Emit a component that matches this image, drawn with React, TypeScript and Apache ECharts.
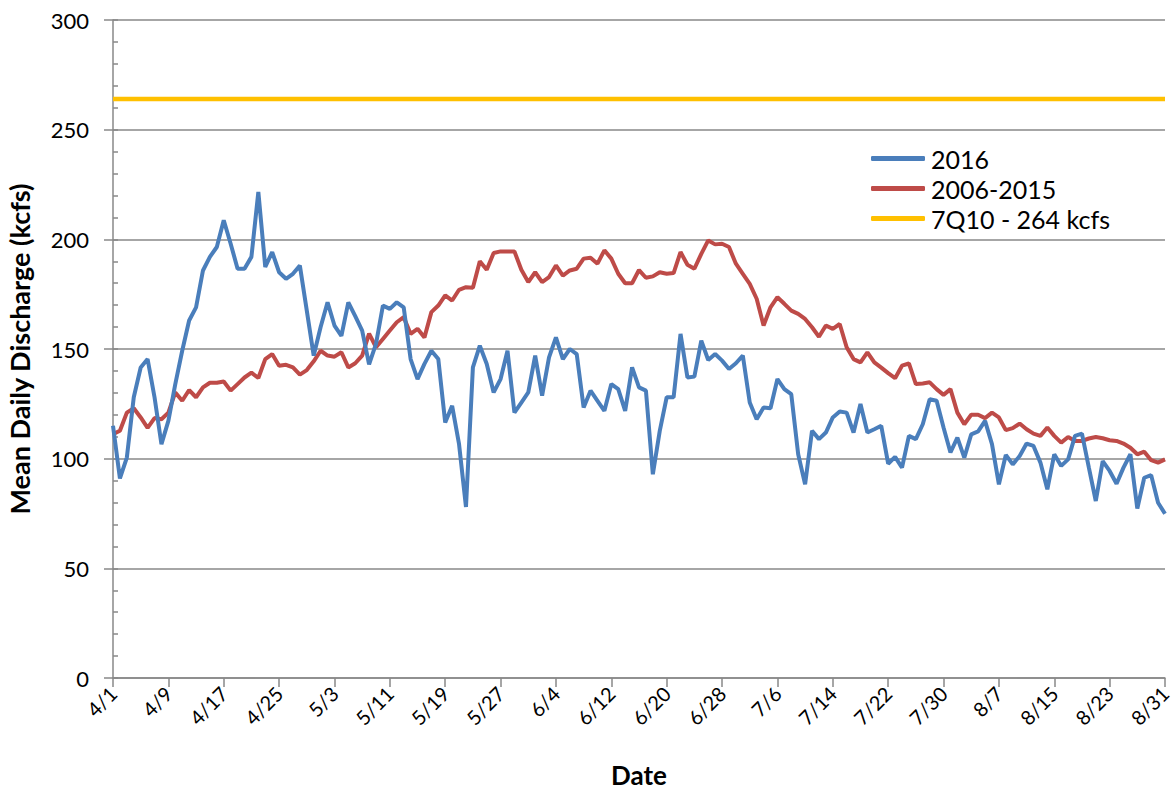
import React, { useEffect, useRef } from "react";
import * as echarts from "echarts";

const monthNums = [4, 5, 6, 7, 8];
const monthDays = [30, 31, 30, 31, 31];
const categories: string[] = [];
monthNums.forEach((m, i) => {
  for (let d = 1; d <= monthDays[i]; d++) categories.push(`${m}/${d}`);
});

const series2016 = [
  115, 91, 100.5, 128, 141.6, 145.4, 128, 106.6, 117.2, 134,
  149.2, 163, 169, 185.8, 192, 196.5, 208.7, 198, 186.6, 186.6,
  192, 221.6, 187.4, 194.2, 185, 182, 184.3, 188, 167.5, 147,
  160, 171.3, 160.7, 156, 171.3, 165, 158.4, 143, 152.3, 169.8,
  168.3, 171.3, 169, 145.4, 136.3, 143.2, 149.2, 145.4, 116.5, 124.1,
  106.6, 78, 141.6, 151.5, 143.2, 130.2, 136.3, 149.2, 121, 125.6,
  130.2, 147, 128.7, 146.2, 155.3, 145.4, 150, 147.7, 123.3, 131,
  126.4, 121.8, 134, 131.7, 121.8, 141.6, 132.5, 131, 92.9, 112.7,
  128, 128, 156.9, 137, 137.4, 153.8, 145, 147.7, 144.7, 140.9,
  143.5, 147, 125.6, 118, 123.3, 123, 136.3, 131.7, 129.4, 102,
  88.3, 112.7, 108.9, 111.9, 118.8, 121.5, 121, 111.9, 124.9, 111.9,
  113.4, 115, 97.7, 100.8, 95.9, 110.4, 108.9, 115.7, 127.1, 126.4,
  114.2, 102.8, 109.6, 100.5, 111.1, 112.4, 117.2, 106.6, 88.3, 101.7,
  97.4, 101.2, 106.9, 105.8, 98.2, 86, 102, 96.7, 99.7, 110.4,
  111.4, 95.9, 80.7, 98.9, 94.4, 88.6, 95.9, 102, 77.3, 91.3,
  92.5, 79.9, 74.9,
];

const series2006_2015 = [
  111.2, 112.7, 121, 123, 118.8, 114, 118.5, 118, 121, 130.2,
  126.4, 131.3, 128, 132.5, 134.6, 134.6, 135.2, 131, 134, 137,
  139.2, 136.8, 145.4, 147.7, 142.4, 142.8, 141.6, 138.3, 140.4, 144.4,
  149.2, 147, 146.5, 148.5, 141.6, 143.5, 147, 157, 150.8, 154.6,
  158.4, 162.2, 164.5, 156.9, 159.2, 155.3, 166.8, 169.8, 174.4, 172.1,
  177, 178.2, 177.9, 190, 186.1, 193.8, 194.5, 194.5, 194.5, 186.1,
  180.5, 185, 180.5, 182.8, 188.1, 183.5, 185.8, 186.6, 191.2, 191.6,
  188.9, 195, 191.2, 184.3, 180, 180, 186, 182.5, 183.1, 185,
  184.3, 184.6, 194.2, 188.4, 186.6, 193.4, 199.5, 197.7, 198, 196.5,
  188.9, 184.3, 179.7, 172.9, 160.7, 169, 173.6, 170.6, 167.5, 166,
  163.7, 159.9, 155.6, 160.7, 159.2, 161.4, 150.8, 145.4, 143.9, 148.5,
  143.9, 141.5, 139, 136.7, 142.4, 143.4, 134, 134.3, 134.8, 131.7,
  129.1, 131.7, 121, 115.7, 120, 120, 118.5, 121, 118.8, 113,
  113.9, 116, 113.4, 111.4, 110.4, 114.2, 110.4, 107.3, 109.9, 108.1,
  108.1, 109.2, 109.9, 109.3, 108.4, 108.1, 106.9, 105, 102, 103.2,
  99.3, 98.2, 99.7,
];

const threshold7Q10 = 264;
const seriesNames = ["2016", "2006-2015", "7Q10 - 264 kcfs"];
const yTicks = { min: 0, max: 300, interval: 50 };

const FONT = "Lato, 'Open Sans', sans-serif";
const GRID_GRAY = "#888888";

export default function App() {
  const ref = useRef<HTMLDivElement>(null);
  useEffect(() => {
    if (!ref.current) return;
    const chart = echarts.init(ref.current, undefined, { renderer: "svg" });
    chart.setOption({
      animation: false,
      backgroundColor: "#ffffff",
      textStyle: { fontFamily: FONT },
      grid: { left: 113, right: 7, top: 20, bottom: 114, outerBoundsMode: "none", containLabel: false },
      legend: {
        orient: "vertical",
        left: 866,
        top: 141,
        itemWidth: 54,
        itemHeight: 5,
        itemGap: 5,
        icon: "roundRect",
        textStyle: { fontFamily: FONT, fontSize: 25, color: "#000", padding: [0, 0, 0, 1] },
        data: seriesNames,
      },
      xAxis: {
        type: "category",
        data: categories,
        boundaryGap: false,
        name: "Date",
        nameLocation: "middle",
        nameGap: 84,
        nameTextStyle: { fontFamily: FONT, fontSize: 26, fontWeight: "bold", color: "#000" },
        axisLine: { lineStyle: { color: GRID_GRAY, width: 1.5 } },
        axisTick: { show: true, interval: 7, length: 9, lineStyle: { color: GRID_GRAY, width: 1.5 } },
        axisLabel: {
          interval: 7,
          rotate: 45,
          margin: 12,
          fontFamily: FONT,
          fontSize: 20,
          color: "#000",
        },
        splitLine: { show: false },
      },
      yAxis: [
        {
          type: "value",
          min: yTicks.min,
          max: yTicks.max,
          interval: yTicks.interval,
          name: "Mean Daily Discharge (kcfs)",
          nameLocation: "middle",
          nameGap: 80,
          nameTextStyle: { fontFamily: FONT, fontSize: 27, fontWeight: "bold", color: "#000" },
          axisLine: { show: true, lineStyle: { color: GRID_GRAY, width: 1.5 } },
          axisTick: { show: true, length: 9, lineStyle: { color: GRID_GRAY, width: 1.5 } },
          axisLabel: { margin: 24, fontFamily: FONT, fontSize: 22, color: "#000" },
          splitLine: { show: true, lineStyle: { color: GRID_GRAY, width: 1.5 } },
        },
        {
          type: "value",
          position: "left",
          min: yTicks.min,
          max: yTicks.max,
          interval: 10,
          axisLine: { show: false },
          axisTick: { show: true, inside: true, length: 5, lineStyle: { color: GRID_GRAY, width: 1.5 } },
          axisLabel: { show: false },
          splitLine: { show: false },
        },
      ],
      series: [
        {
          name: seriesNames[0],
          type: "line",
          data: series2016,
          showSymbol: false,
          symbol: "none",
          lineStyle: { color: "#4A7EBB", width: 4 },
          itemStyle: { color: "#4A7EBB" },
          z: 4,
        },
        {
          name: seriesNames[1],
          type: "line",
          data: series2006_2015,
          showSymbol: false,
          symbol: "none",
          lineStyle: { color: "#BE4B48", width: 4 },
          itemStyle: { color: "#BE4B48" },
          z: 3,
        },
        {
          name: seriesNames[2],
          type: "line",
          data: categories.map(() => threshold7Q10),
          showSymbol: false,
          symbol: "none",
          lineStyle: { color: "#FFC000", width: 4.5 },
          itemStyle: { color: "#FFC000" },
          z: 2,
        },
      ],
    });
    return () => chart.dispose();
  }, []);
  return (
    <div
      ref={ref}
      style={{ position: "fixed", left: 0, top: 0, width: 1172, height: 792, background: "#fff" }}
    />
  );
}
